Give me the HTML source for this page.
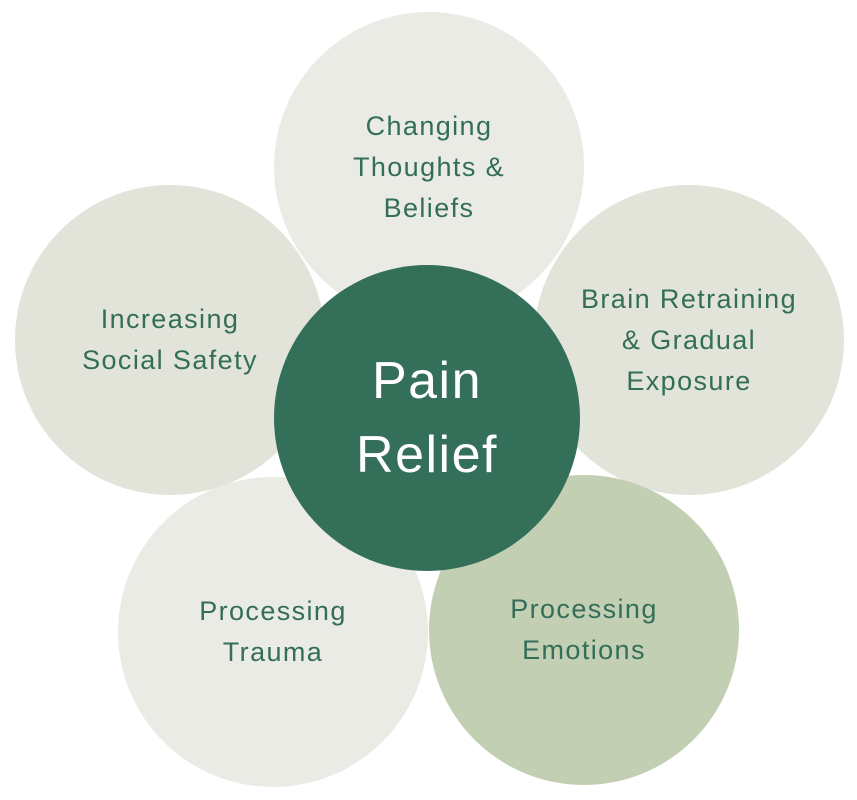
<!DOCTYPE html>
<html><head><meta charset="utf-8"><style>
html,body{margin:0;padding:0;background:#fff;width:857px;height:800px;overflow:hidden}
.c{position:absolute;border-radius:50%;display:flex;align-items:center;justify-content:center;text-align:center;font-family:"Liberation Sans",sans-serif;color:#336e58;font-size:27px;line-height:41px;letter-spacing:1.4px}
</style></head><body>
<div class="c" style="left:274px;top:12px;width:310px;height:310px;background:#ebebe6">Changing<br>Thoughts &amp;<br>Beliefs</div>
<div class="c" style="left:15px;top:185px;width:310px;height:310px;background:#e3e4d9">Increasing<br>Social Safety</div>
<div class="c" style="left:534px;top:185px;width:310px;height:310px;background:#e3e4d9">Brain Retraining<br>&amp; Gradual<br>Exposure</div>
<div class="c" style="left:118px;top:477px;width:310px;height:310px;background:#ebebe6">Processing<br>Trauma</div>
<div class="c" style="left:429px;top:475px;width:310px;height:310px;background:#c2cfb3">Processing<br>Emotions</div>
<div class="c" style="left:274px;top:265px;width:306px;height:306px;background:#346f5a;color:#fff;font-size:52px;line-height:74px;letter-spacing:1.5px">Pain<br>Relief</div>
</body></html>
